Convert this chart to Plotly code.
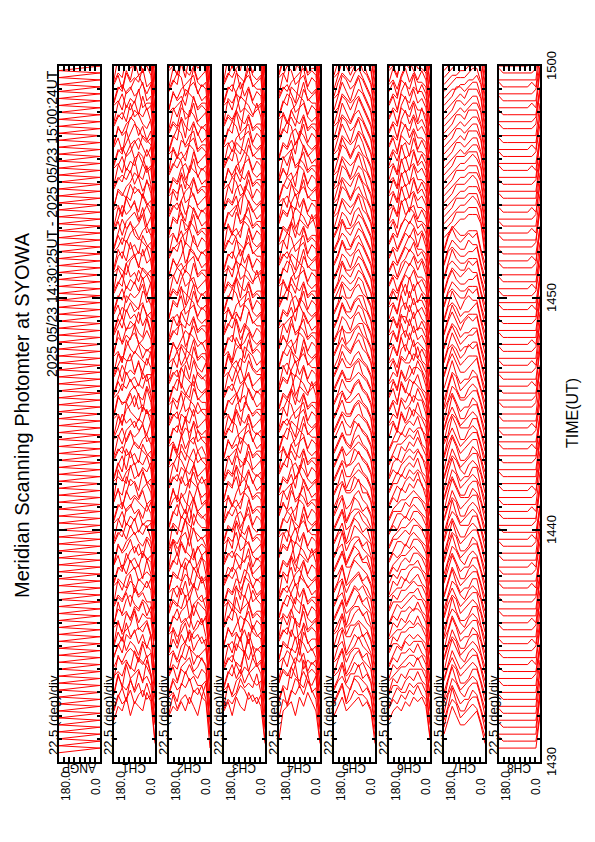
import plotly.graph_objects as go

W, H = 595, 842
OFF = 8                      # default page margin of the html body
FONT = "Liberation Sans"

# ---------------- data ----------------
TITLE = "Meridian Scanning Photomter at SYOWA"
PERIOD = "2025 05/23 14:30:25UT - 2025 05/23 15:00:24UT"
PANEL_NAMES = ["ANGP", "CH1", "CH2", "CH3", "CH4", "CH5", "CH6", "CH7", "CH8"]
TIME_TICK_LABELS = ["1430", "1440", "1450", "1500"]
TIME_TICK_MIN = [0, 10, 20, 30]          # minutes after 14:30 UT
ANGLES = [180, 162, 144, 126, 108, 90, 72, 54, 36, 18, 0]   # scan angle (deg)
SCAN_MIN = [0.4, 0.7, 1.0, 1.3, 1.6, 1.9, 2.2, 2.5, 2.8, 3.1, 3.4, 3.7, 4.0, 4.3, 4.6, 4.9,
            5.2, 5.5, 5.8, 6.1, 6.4, 6.7, 7.0, 7.3, 7.6, 7.9, 8.2, 8.5, 8.8, 9.1, 9.4, 9.7,
            10.0, 10.3, 10.6, 10.9, 11.2, 11.5, 11.8, 12.1, 12.4, 12.7, 13.0, 13.3, 13.6,
            13.9, 14.2, 14.5, 14.8, 15.1, 15.4, 15.7, 16.0, 16.3, 16.6, 16.9, 17.2, 17.5,
            17.8, 18.1, 18.4, 18.7, 19.0, 19.3, 19.6, 19.9, 20.2, 20.5, 20.8, 21.1, 21.4,
            21.7, 22.0, 22.3, 22.6, 22.9, 23.2, 23.5, 23.8, 24.1, 24.4, 24.7, 25.0, 25.3,
            25.6, 25.9, 26.2, 26.5, 26.8, 27.1, 27.4, 27.7, 28.0, 28.3, 28.6, 28.9, 29.2,
            29.5, 29.8, 30.1]
ANGP_ANGLE = [180, 0]        # scanner position at sweep start / end
ANGP_DT = [0.0, 0.2]         # minutes after scan start
UNIT = 0.2                   # minutes of offset per intensity step

# intensity per scan, one base-36 character per angle (180 -> 0 deg)
CH1 = """
7a9c8ba9db2 8b9ac9bcab1 69b8dac9c93 8ca9b9dbca2 7b8dabc9eb1 9a9cbadcb92 7cab9dbac83 8a9bcb9dab1 9bdacb9cba2 7a8cbdac9c1
8b9dabcbda2 7c9abeabc91 9a8cbdacbb2 8dab9cbdac1 7a9cdbacb93 9bac9dbcaa2 8a9bdcabdb1 7cbad9cbac2 9a8bcdabcb1 8bcadbc9da2
7a9dbcadcb1 9b8acdbcab2 8cabdac9db1 6a9bcdbacb2 9bcadbcbda1 8a9cbdacbc2 7bdacbdabb1 9a8cdbcadb2 8bcabdcbac1 7a9dbcbdab2
9c8bedacdb1 8a9dbcaecb2 7dbaebcdab1 9a9bcdacbd2 8bdaebcbda1 7a8dbcaecb2 9bcabdcbab1 8a9cebacdb2 7bdacbceab1 9a8bcdbcad2
8adbcacbeb1 7b9ecbadcb2 9a8bcebcab1 8cbbdad9eb2 7b9acdbadb1 9acbdbcbea2 8b9dbcadbc1 7adbcbeabb2 9b8ceacadb1 8acbbdcbad2
7b9ecbdacb1 9a8bdecbab2 8dacbeabdb1 7a9ccdbaeb2 9bdacbebda1 8b9dbcaecb2 7acbdbcdab1 9b8dcbaedb2 8bdacbceab1 7a9cbdbead2
9bdacbecdb1 8a9ebcadcb2 7cbadecbab1 9a8bcdaebc2 8bcaebcbda1 7b9dbcaecb2 9acbdecbab1 8b9cebacdb2 7adbcbceab1 9b8bcdbeac2
8adbceabdb1 7b9dbcaecb2 9a8cbedcab1 8cbadbcaeb2 7a9bcedacb1 9bcbdacbea2 8a9cbeadbc1 7bdacbedab2 9a8cebcadb1 8bcabdecac2
7a9ebcadcb1 9b8acedbab2 8cabedac9b1 7a9bcedbac2 9bcaebcbda1 8a9cbdaebc2 7bdacbeabb1 9a8cdbceab2 8bcabdecac1 7a9dbcbeab2
9b8caebcdb1 8a9dbceacb2 7cbadbcdab1 9a9bcdaebc2 8bcadbcbea1 7a8ebcadcb2 9bcabecbab1 8a9cdbaedb2 7bdacbcdab1 9a8bcebcac2
"""
CH2 = """
8a9b9ca8cb1 7b8ab9cbda2 9a8cbdab9c1 8b9adbcaab2 7a9cbdbacb1 9b8bcdabdb2 8a9cbeacba1 7b9adcbabc2 9a8bceacdb1 8b9cadbcab2
7cabd9bcea1 9a7bcdacbd2 8bdab9ecab1 7a9bceadcb2 9cbad8bcda1 8a9dbcebab2 7bcad9cbeb1 9a8bdcaebc2 8cbae9dbab1 7a9cbdbcea2
9bdacbe9cb1 8a9ecbadbc2 7dbcae9bcb1 9b8cdaebca2 8a9bedcbab1 7cbad9ecbb2 9a8cbeadcb1 8bdac9ebab2 7a9ecbdabc1 9bca8dbeab2
8c9abedcab1 7a8dbcebdb2 9bcad9ebab1 8a9cbedabc2 7bdca9becb1 9a8ecbdabb2 8cab9debca1 7b9dacbecb2 9a8bdceabb1 8bcae9dbab2
7a9dcbeabc1 9bc8adbecb2 8a9bedcabb1 7cbd9aecbb2 9a8cbdeabc1 8bdca9ebab2 7a9ecbadcb1 9bc8daebab2 8a9bcedbac1 7bdac9ebcb2
9a8dcbeabb1 8cab9edbca2 7a9bdcebab1 9bcd8aebcb2 8a9ecbdabb1 7bca9debab2 9a8bcedacb1 8cbd9aebab2 7a9dcbeacb1 9bac8debab2
8a9cedbabc1 7bdc9aebcb2 9a8bcdeabb1 8cab9edcab2 7a9bedcacb1 9bcd8aebab2 8a9cdebacb1 7bac9edbcb2 9a8dcbeabb1 8cbd9aecab2
7a9ebdcacb1 9bca8debab2 8a9bdecabc1 7cbd9aebcb2 9a8ecbdabb1 8bac9edcab2 7a9cdbeacb1 9bdc8aebab2 8a9bcedabc1 7cab9debcb2
9a8cbdeabb1 8bdc9aecab2 7a9ecbdacb1 9bac8edbab2 8a9dcbeabc1 7bcd9aebcb2 9a8bedcabb1 8cab9decab2 7a9bcdeacb1 9bdc8aebab2
8a9ecbdabc1 7bac9edbcb2 9a8cdebabb1 8bcd9aecab2 7a9bdecacb1 9bca8debab2 8a9cebdabc1 7bdc9aecbb2 9a8bdcebab1 8cab9edcab2
"""
CH3 = """
9b8ca9dbca2 8a9bdcab9b1 7c9adbcbea2 9a8bcedbab1 8bdac9bcdb2 7a9cbeadbc1 9bca8dbeab2 8a9dcbeacb1 7bcad9ebab2 9a8cbdaecb1
8cab9edbab2 7a9bdceacb1 9bdc8aebcb2 8a9ebcdabb1 7cba9dbecb2 9a8dcbeabc1 8bac9edcab2 7a9cbedacb1 9bdc8aebab2 8a9bcdeabc1
7a9dcbeacb2 9bca8debab1 8a9bedcabc2 7cbd9aebcb1 9a8ecbdabb2 8bac9debab1 7a9cdbeacb2 9bdc8aebcb1 8a9bcedabb2 7cab9debcb1
9a8bdecabb2 8cbd9aecab1 7a9ecbdacb2 9bac8edbab1 8a9dcbeabc2 7bcd9aebcb1 9a8bedcabb2 8cab9decab1 7a9bcdeacb2 9bdc8aebab1
8a9ecbdabc2 7bac9edbcb1 9a8cdebabb2 8bcd9aecab1 7a9bdecacb2 9bca8debab1 8a9cebdabc2 7bdc9aecbb1 9a8bdcebab2 8cab9edcab1
7b9cdaebcb2 9a8dbceabc1 8bca9edbab2 7a9ebdcacb1 9bdc8aecbb2 8a9cbedabc1 7cab9debab2 9a8bcdeacb1 8bdc9aebcb2 7a9ecbdabb1
9bac8dcbeb2 8a9bedcabc1 7cbd9aebab2 9a8cebdacb1 8bca9decbb2 7a9dcbeabc1 9bdc8aebab2 8a9bcedacb1 7cab9edbcb2 9a8dbceabb1
8bcd9aecab2 7a9bdecabc1 9bac8edbab2 8a9cdbeacb1 7bdc9aebcb2 9a8ecbdabb1 8cab9debab2 7a9bcedacb1 9bdc8aecbb2 8a9dcbeabc1
7bca9debab2 9a8bcdeacb1 8bdc9aebcb2 7a9ecbdabb1 9bac8dcbeb2 8a9bedcabc1 7cbd9aebab2 9a8cebdacb1 8bca9decbb2 7a9dcbeabc1
9bdc8aebab2 8a9bcedacb1 7cab9edbcb2 9a8dbceabb1 8bcd9aecab2 7a9bdecabc1 9bac8edbab2 8a9cdbeacb1 7bdc9aebcb2 9a8ecbdabb1
"""
CH4 = """
39ab8cadb92 6a9cbdbeca1 8b7adcbeab2 7a9ecbdbac1 9cbad8ebcb2 8a9bdceacb1 7bdcae9bab2 9a8cbedbca1 8cbad9ecab2 7a9dbceabb1
9bcae8dbcb2 8a9dcbeabc1 7cbda9ebab2 9a8bedcacb1 8bdca9ebcb2 7a9cebdabb1 9bca8edcab2 8a9bdecabc1 7cbd9aebab2 9a8ecbdacb1
8bac9dcbeb2 7a9bedcabc1 9cbd8aebab2 8a9cebdacb1 7bca9decbb2 9a8dcbeabc1 8bdc9aebab2 7a9bcedacb1 9cab8edbcb2 8a9dbceabb1
7bcd9aecab2 9a8bdecabc1 8bac9edbab2 7a9cdbeacb1 9bdc8aebcb2 8a9ecbdabb1 7cab9debab2 9a8bcedacb1 8bdc9aecbb2 7a9dcbeabc1
9bca8debab2 8a9bcdeacb1 7bdc9aebcb2 9a8ecbdabb1 8bac9dcbeb2 7a9bedcabc1 9cbd8aebab2 8a9cebdacb1 7bca9decbb2 9a8dcbeabc1
8bdc9aebab2 7a9bcedacb1 9cab8edbcb2 8a9dbceabb1 7bcd9aecab2 9a8bdecabc1 8bac9edbab2 7a9cdbeacb1 9bdc8aebcb2 8a9ecbdabb1
7cab9debab2 9a8bcedacb1 8bdc9aecbb2 7a9dcbeabc1 9bca8debab2 8a9bcdeacb1 7bdc9aebcb2 9a8ecbdabb1 8bac9dcbeb2 7a9bedcabc1
9cbd8aebab2 8a9cebdacb1 7bca9decbb2 9a8dcbeabc1 8bdc9aebab2 7a9bcedacb1 9cab8edbcb2 8a9dbceabb1 7bcd9aecab2 9a8bdecabc1
8bac9edbab2 7a9cdbeacb1 9bdc8aebcb2 8a9ecbdabb1 7cab9debab2 9a8bcedacb1 8bdc9aecbb2 7a9dcbeabc1 9bca8debab2 8a9bcdeacb1
7bdc9aebcb2 9a8ecbdabb1 8bac9dcbeb2 7a9bedcabc1 9cbd8aebab2 8a9cebdacb1 7bca9decbb2 9a8dcbeabc1 8bdc9aebab2 7a9bcedacb1
"""
CH5 = """
8ac9abcab92 9bd9acbba82 8ac8bdcab92 9bca9ccba82 8ad9bbdab92 9ac9acbca82 8bd8acdba92 9ac9bccab82 8bc9abdba92 9ad8acbca82
8bcaacdab92 9ad9bbcba82 8ac9acdca92 9bd8bccab82 8ac9abdba92 9bc9bdcab82 8ad8acbca92 9bc9bcdba82 8ad9abcab92 9ac8bdcba82
9bdaacdbb92 8ac9bdcab82 9bc8acdba92 8ad9bccab82 9bc9adcba92 8ac8bdcab82 9bd9acdba92 8ac9bccba82 9bd8adcab92 8bc9acdba82
8adbbcebb92 9bcaadcba82 8ad9bcdcb92 9bdaacdba82 8acbbcecb92 9bd9adcba82 8acabcdcb92 9bdbacdba82 8aca9cecb92 9bdaadcba82
9bdbacdcb92 8acbbdeba82 9bdaacdcb92 8adbbcdba82 9bcabdecb92 8adbacdba82 9bdbbcdcb92 8acaadeba82 9bdbbcdcb92 8adbacdba82
8adcbdecb92 9bdbaceda82 8aeabdecb92 9bcbbcdda82 8adcadecb92 9becbceda82 8adbbdecb92 9bdcacdda82 8aebbdecb92 9bdcbceda82
9bdcbcedb92 8aecbdeca82 9bdbbcedb92 8adcadeca82 9becbcedb92 8adbbdeca82 9bdcacedb92 8aecbdeca82 9bdbbcedb92 8adcadeca82
8becbdfcb92 9adcbceda82 8bedbdecb92 9aecacfda82 8bdcbdecb92 9aedbceda82 8becadfcb92 9adcbceda82 8bedbdecb92 9aecacfda82
9adcbcedb92 8becadfca82 9aedbcedb92 8bdcbdeca82 9aecacfdb92 8bedbdeca82 9adcbcedb92 8becadfca82 9aedbcedb92 8bdcbdeca82
8bedbdfcb92 9aecbceda82 8bdcadecb92 9aedbcfda82 8becbdecb92 9adcaceda82 8bedbdfcb92 9aecbceda82 8bdcadecb92 9aedbcfda82
"""
CH6 = """
79a9bacbca3 8a9bacbdba2 79baacbcca3 8aa9bcbdba2 7a9bacccca3 89abbcbdba2 7a9abccbca3 8a9bbcbdba2 79bacbccca3 8aa9bcbcba2
7a9bbccdca3 89aabcbdba2 7a9bacddca3 8a9bbcbdba2 79babcdcca3 8aaabccdba2 7a9bbcdcca3 89aacbcdba2 7a9bacddca3 8a9bbccdba2
8a9bcbddca3 79abbcdcba2 8a9acbddca3 79bbacdcba2 8aabcbddca3 79abbcdcba2 8a9bcbddca3 79bbacdcba2 8aaacbddca3 79abbcdcba2
8a9cbdceda3 79bacdceba2 8aacbdcdca3 79bacdceba2 8a9bcdceda3 7abacdcdba2 8a9cbdceca3 79bbcdceba2 8aacbdcdda3 79bacdceba2
8b9dbcedca3 9a8cadbeba2 8a9dbcedda3 9b8cbdbeca2 8a9ecbedca3 9b8cadceba2 8b9dbceeda3 9a8cadbeca2 8a9dccedca3 9b8cbdbeba2
9a8cdbeaca3 8b9daebcba2 9a8cdbebca3 8b9daebcca2 9a8ddbeaca3 8b9caebdba2 9a8cdbebca3 8b9daebcca2 9a8cebeaca3 8b9daebdba2
8a9bdcebca3 9b8acedbba2 8a9bdcebda3 9b8bcedbca2 8a9bdcebca3 9b8acedbba2 8a9bdceada3 9b8acedbca2 8a9cdcebca3 9b8acedbba2
9a8ebcdaca3 8b9cdaebba2 9a8ebcdbca3 8b9cdaebca2 9a8ebcdaca3 8b9cdaebba2 9a8ebcdbca3 8b9cdaebca2 9a8ebcdaca3 8b9cdaebba2
8a9dcbeaca3 9b8cebdbba2 8a9dcbebca3 9b8cebdbca2 8a9dcbeada3 9b8cebdbba2 8a9dcbebca3 9b8cebdcca2 8a9dcbeaca3 9b8cebdbba2
9a8bdecaca3 8b9ecbdbba2 9a8bdecbca3 8b9ecbdbca2 9a8bdecaca3 8b9ecbdbba2 9a8bdecbca3 8b9ecbdbca2 9a8bdecaca3 8b9ecbdbba2
"""
CH7 = """
47a86678962 48a96789852 47b86689962 48a86779852 57a97689962 48b86789852 47a96679962 58a86789852 47a86789962 48b97689852
58a96789862 47a86689952 48b96779862 57a86789952 48a97689862 47b86679952 58a96789862 48a86789952 47a97689862 58b86779952
47a86789962 58b96689852 48a86779962 47a97689852 58b86789962 48a96679852 47b86789962 58a86689852 48a97779962 47b86789852
58a96689862 47a86789952 48b97779862 58a86689952 47a96789862 48b86779952 58a97689862 47a86789952 48b96679862 58a86789952
48a86789962 57b96689852 48a97779962 58a86789852 47b96689962 48a86779852 57a97789962 48b86689852 47a96789962 58b86779852
69b97789a62 58b97899952 69a978a9a62 58b97889952 69b97899a62 58a97889952 69b979a9a62 58b97899952 69a97889a62 58b979a9952
69a988a9a62 58a98899952 69b98899a62 58a989a9952 69a988a9a62 58b98899952 69a98899a62 58a988a9952 69b989a9a62 58a98899952
6789aabbb92 678aaabbb82 6789aabcb92 678aaabbb82 6789aabbb92 678aaabcb82 6789aabbb92 678aaabbb82 6789aabcb92 678aaabbb82
6789a9abb92 678aa9abb82 6789a9bbb92 678aa9abb82 6789a9abb92 678aa9bbb82 6789a9abb92 678aa9abb82 6789a9bbb92 678aa9abb82
678899aab92 678999abb82 678899aab92 678999abb82 678899abb92 678999aab82 678899aab92 678999abb82 678899aab92 678999abb82
"""
CH8 = """
11111111118 21111111117 11111111119 21111111118 11111111117 21111111118 11111111119 21111111117 11111111118 21111111119
11111111128 21111111117 11111111219 21111111118 11111111127 21111111218 11111111119 21111111127 11111111218 21111111119
11111111118 21111111127 11111111119 21111111218 11111111117 21111111128 11111111219 21111111117 11111111118 21111111129
11111111218 21111111117 11111111129 21111111118 11111111217 21111111118 11111111129 21111111217 11111111118 21111111119
11111111118 21111111127 11111111119 21111111218 11111111117 21111111128 11111111219 21111111117 11111111118 21111111129
11111111128 21111111117 11111111219 21111111118 11111111127 21111111218 11111111119 21111111127 11111111218 21111111119
11111111118 21111111127 11111111119 21111111218 11111111117 21111111128 11111111219 21111111117 11111111118 21111111129
11111111218 21111111117 11111111129 21111111118 11111111217 21111111118 11111111129 21111111217 11111111118 21111111119
11111111118 21111111127 11111111119 21111111218 11111111117 21111111128 11111111219 21111111117 11111111118 21111111129
11111111128 21111111117 11111111219 21111111118 11111111127 21111111218 11111111119 21111111127 11111111218 21111111119
"""
CHANNEL_TEXT = [CH1, CH2, CH3, CH4, CH5, CH6, CH7, CH8]

# ---------------- layout geometry (window pixels) ----------------
PANEL_LEFT0, PANEL_STEP, PANEL_W = 59, 55, 41
PANEL_TOP, PANEL_BOTTOM = 66, 762
FW, FH = W - OFF, H - OFF    # figure size inside the page margin


def px(x):
    return (x - OFF) / FW


def py(y):
    return 1 - (y - OFF) / FH


fig = go.Figure()
LINE = dict(color="#ff0000", width=1.0)

# ANGP panel: scanner position zigzag
ax_, ay_ = [], []
for t in SCAN_MIN:
    for a, dt in zip(ANGP_ANGLE, ANGP_DT):
        ax_.append(a)
        ay_.append(t + dt)
fig.add_trace(go.Scatter(x=ax_, y=ay_, mode="lines", xaxis="x", yaxis="y",
                         line=LINE, hoverinfo="skip"))

for k, txt in enumerate(CHANNEL_TEXT, start=2):
    rows = txt.split()
    xs, ys = [], []
    for t, row in zip(SCAN_MIN, rows):
        for a, c in zip(ANGLES, row):
            xs.append(a)
            ys.append(t + int(c, 36) * UNIT)
        xs.append(None)
        ys.append(None)
    fig.add_trace(go.Scatter(x=xs, y=ys, mode="lines", xaxis=f"x{k}", yaxis=f"y{k}",
                             line=LINE, hoverinfo="skip"))

layout = dict(width=FW, height=FH, margin=dict(l=0, r=0, t=0, b=0),
              paper_bgcolor="white", plot_bgcolor="white", showlegend=False)

annotations = []


def ann(text, x, y, size, angle=-90):
    annotations.append(dict(text=text, x=px(x), y=py(y), xref="paper", yref="paper",
                            showarrow=False, textangle=angle, xanchor="center",
                            yanchor="middle",
                            font=dict(family=FONT, size=size, color="black")))


for i, name in enumerate(PANEL_NAMES):
    left = PANEL_LEFT0 + i * PANEL_STEP
    right = left + PANEL_W
    sfx = "" if i == 0 else str(i + 1)
    layout["xaxis" + sfx] = dict(
        domain=[px(left), px(right)], range=[180, 0], anchor="y" + sfx,
        showgrid=False, zeroline=False, showline=True, linecolor="black", linewidth=2,
        mirror="ticks", ticks="inside", ticklen=5, tickwidth=1.5, tickcolor="black",
        tickvals=[0, 22.5, 45, 67.5, 90, 112.5, 135, 157.5, 180], showticklabels=False,
        fixedrange=True)
    layout["yaxis" + sfx] = dict(
        domain=[py(PANEL_BOTTOM), py(PANEL_TOP)], range=[0, 30], anchor="x" + sfx,
        showgrid=False, zeroline=False, showline=True, linecolor="black", linewidth=2,
        mirror="ticks", ticks="inside", ticklen=8, tickwidth=2, tickcolor="black",
        tickvals=TIME_TICK_MIN, showticklabels=False,
        minor=dict(dtick=1, ticks="inside", ticklen=3, tickwidth=2, tickcolor="black"),
        fixedrange=True)
    # labels around each panel
    ann("22.5 (deg)/div", left - 6, 715, 13)
    ann("180.0", left + 7, 786, 12)
    ann("0.0", right - 4, 787, 12)
    ann(name, (left + right) / 2, 768, 12, angle=180)

# time tick labels on the right
for lab, m in zip(TIME_TICK_LABELS, TIME_TICK_MIN):
    ann(lab, 551, PANEL_BOTTOM - m / 30 * (PANEL_BOTTOM - PANEL_TOP), 13)

ann("TIME(UT)", 572, 413, 16)
ann(TITLE, 22, 415, 20)
ann(PERIOD, 52, 224, 14)

layout["annotations"] = annotations
fig.update_layout(**layout)
fig.write_html("out.html")
